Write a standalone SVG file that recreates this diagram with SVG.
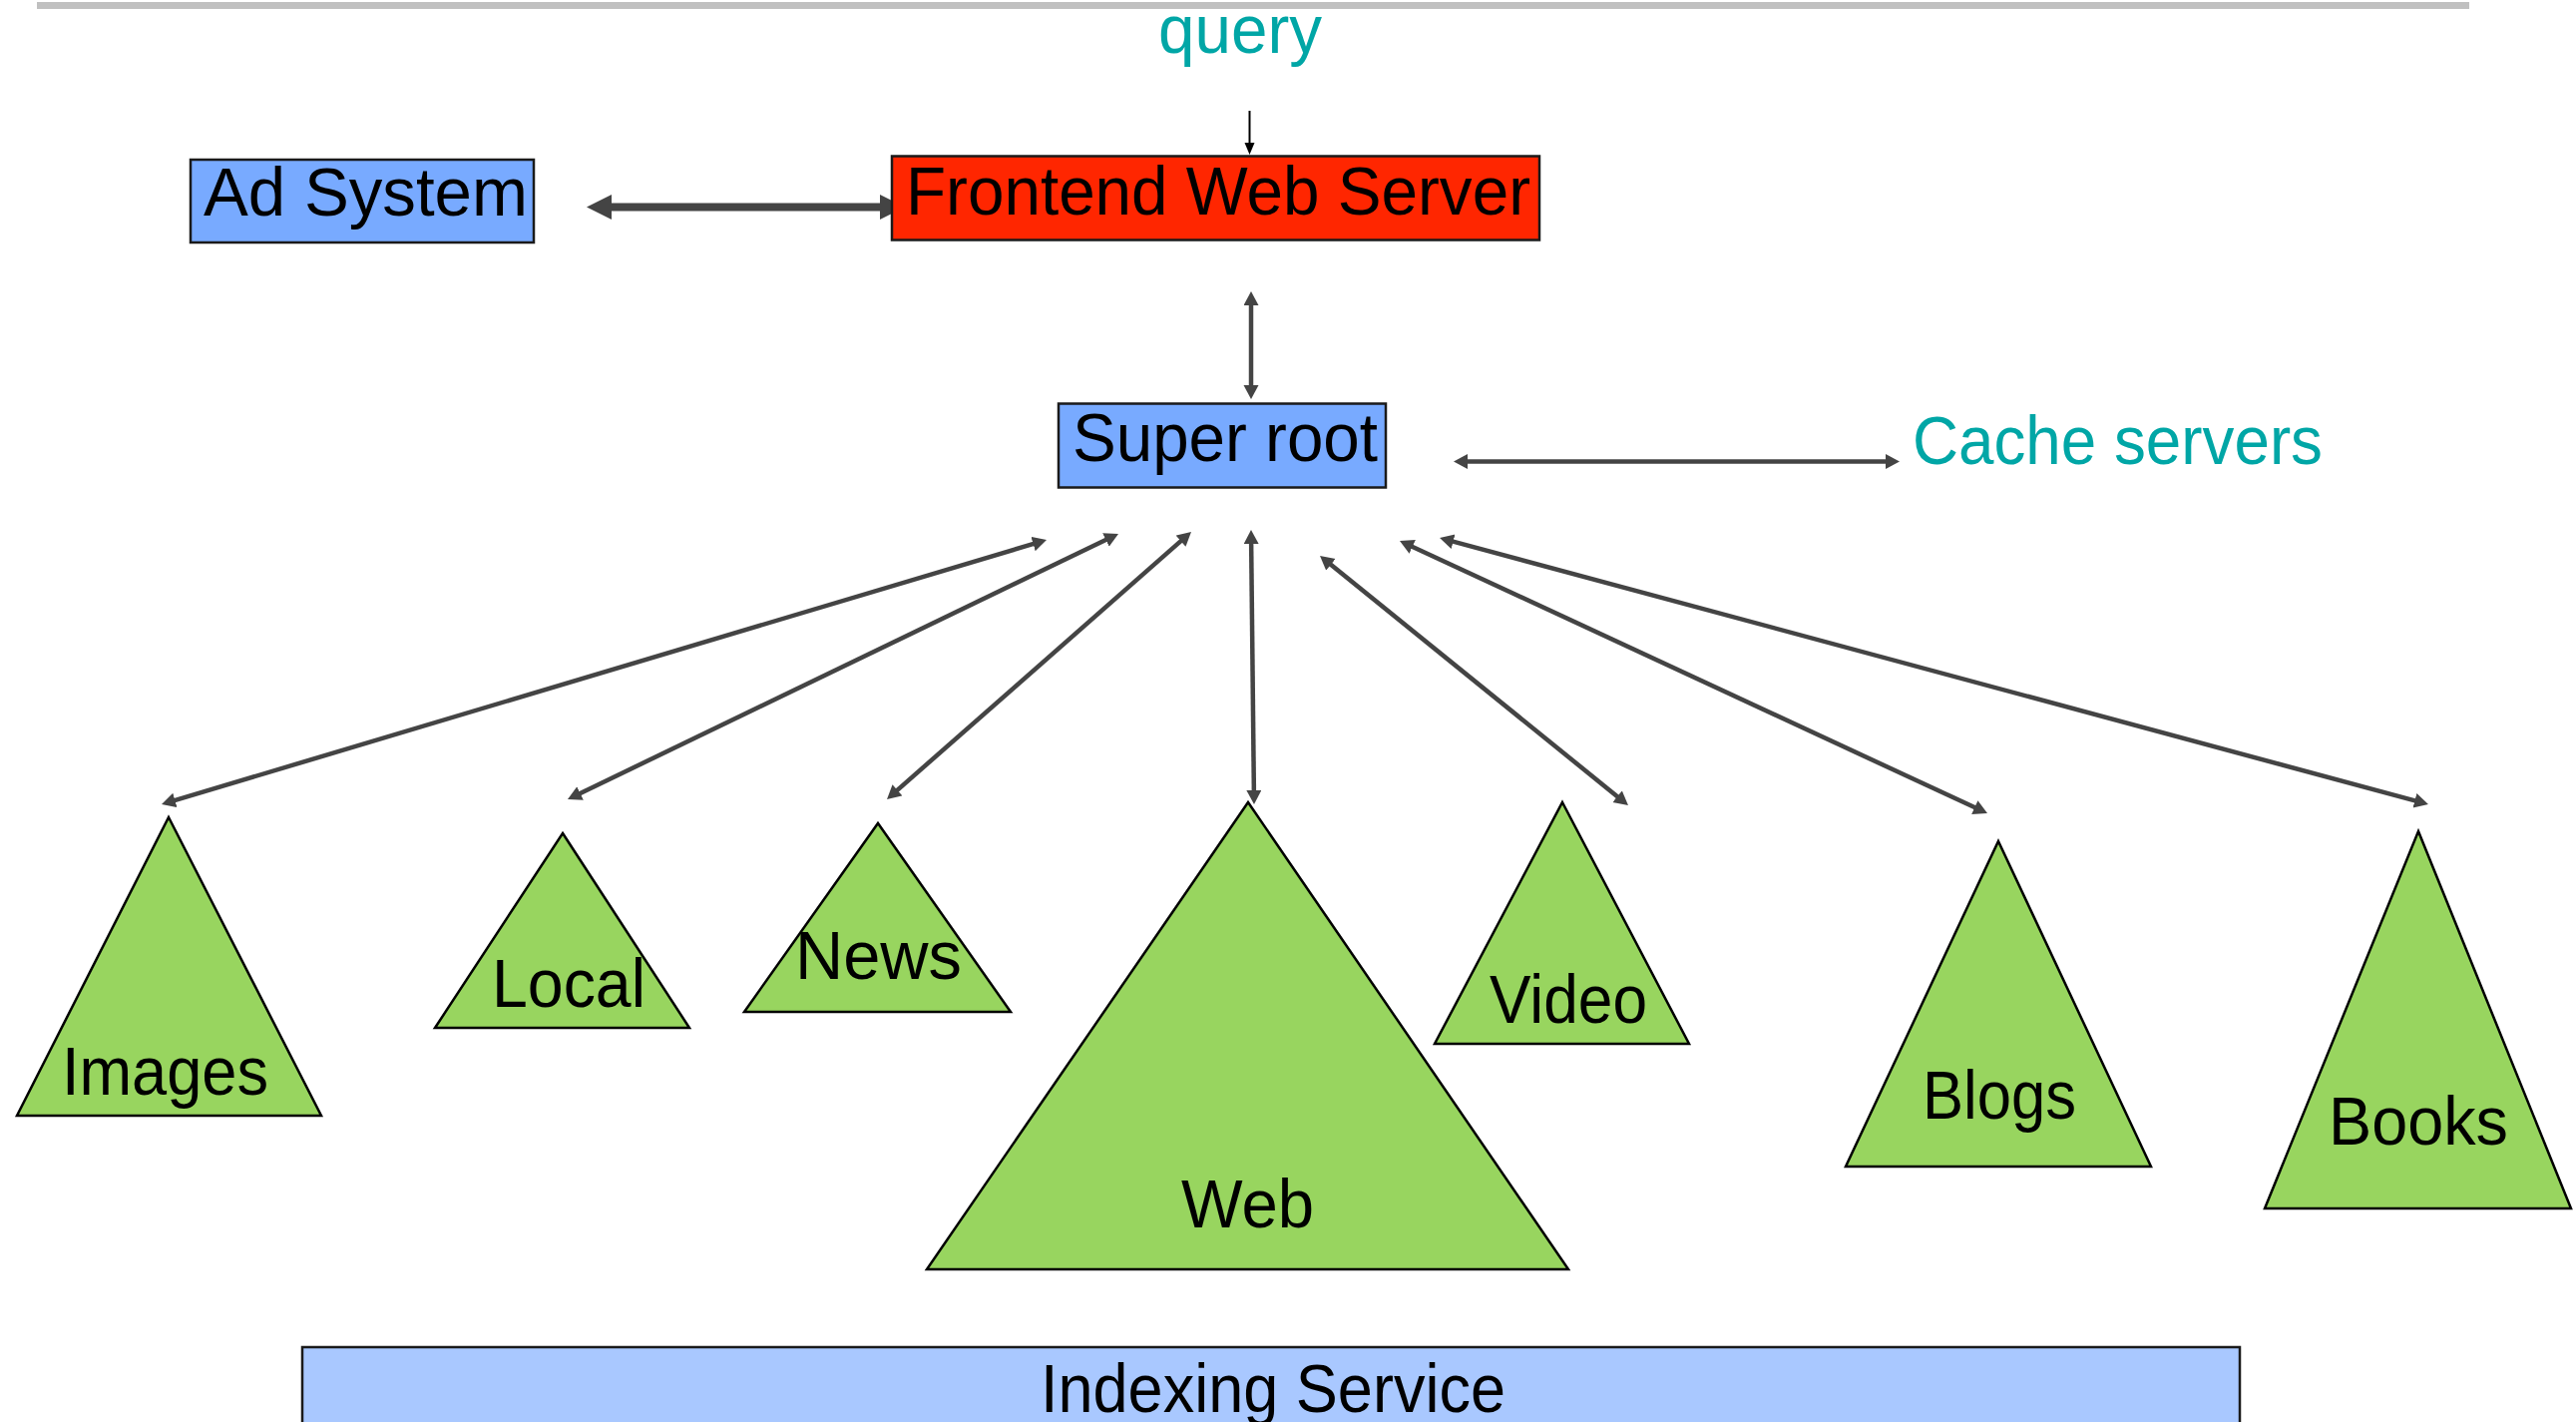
<svg xmlns="http://www.w3.org/2000/svg" width="2582" height="1425" viewBox="0 0 2582 1425">
<style>
  .lbl { font-family: "Liberation Sans", Arial, sans-serif; font-size: 68px; fill: #000; }
  .teal { font-family: "Liberation Sans", Arial, sans-serif; font-size: 68px; fill: #00a6a6; }
  .box { stroke: #1a1a1a; stroke-width: 2.5; }
  .blue { fill: #78aaff; }
  .tri { fill: #98d55f; stroke: #000; stroke-width: 2.5; stroke-linejoin: miter; }
  .fan { stroke: #444; stroke-width: 4.5; fill: none; marker-start: url(#ah); marker-end: url(#ah); }
</style>
<defs>
  <marker id="ah" markerUnits="userSpaceOnUse" markerWidth="15" markerHeight="16" refX="4" refY="7.5" orient="auto-start-reverse" viewBox="0 0 15 16">
    <path d="M0,0 L14,7.5 L0,15 z" fill="#444"/>
  </marker>
  <marker id="big" markerUnits="userSpaceOnUse" markerWidth="26" markerHeight="26" refX="10" refY="12.5" orient="auto-start-reverse" viewBox="0 0 26 26">
    <path d="M0,0 L25,12.5 L0,25 z" fill="#444"/>
  </marker>
  <marker id="qa" markerUnits="userSpaceOnUse" markerWidth="13" markerHeight="11" refX="2" refY="5" orient="auto" viewBox="0 0 13 11">
    <path d="M0,0 L12,5 L0,10 z" fill="#000"/>
  </marker>
</defs>

<rect x="37" y="2" width="2438" height="7" fill="#c0c0c0"/>

<g id="connectors">
  <line x1="1252.5" y1="111" x2="1252.5" y2="145" stroke="#000" stroke-width="2" marker-end="url(#qa)"/>
  <line x1="603" y1="207.5" x2="892" y2="207.5" stroke="#444" stroke-width="8" marker-start="url(#big)" marker-end="url(#big)"/>
  <line x1="1254" y1="302" x2="1254" y2="390" class="fan" stroke-width="4"/>
  <line x1="1467" y1="462.5" x2="1894" y2="462.5" class="fan" stroke-width="5"/>
  <line x1="1039.4" y1="543.9" x2="171.6" y2="803.1" class="fan"/>
  <line x1="1112.0" y1="539.3" x2="578.0" y2="796.7" class="fan"/>
  <line x1="1186.5" y1="539.6" x2="896.5" y2="794.4" class="fan"/>
  <line x1="1254.1" y1="541" x2="1256.9" y2="796" class="fan"/>
  <line x1="1330.8" y1="563.3" x2="1624.2" y2="800.7" class="fan"/>
  <line x1="1412.1" y1="546.2" x2="1982.9" y2="810.8" class="fan"/>
  <line x1="1452.7" y1="541.6" x2="2424.3" y2="803.4" class="fan"/>
</g>

<g id="query">
  <text class="teal" x="1161" y="53" textLength="164" lengthAdjust="spacingAndGlyphs">query</text>
</g>

<g id="ad-system">
  <rect class="box blue" x="191" y="160" width="344" height="83"/>
  <text class="lbl" x="204" y="216" textLength="325" lengthAdjust="spacingAndGlyphs">Ad System</text>
</g>

<g id="frontend">
  <rect class="box" fill="#ff2600" x="894" y="156.5" width="649" height="84"/>
  <text class="lbl" x="908" y="215" textLength="626" lengthAdjust="spacingAndGlyphs">Frontend Web Server</text>
</g>

<g id="super-root">
  <rect class="box blue" x="1061" y="404.5" width="328" height="84"/>
  <text class="lbl" x="1075" y="462" textLength="306" lengthAdjust="spacingAndGlyphs">Super root</text>
</g>

<g id="cache-servers">
  <text class="teal" x="1917" y="465" textLength="411" lengthAdjust="spacingAndGlyphs">Cache servers</text>
</g>

<g id="images">
  <polygon class="tri" points="169,819 322,1118 17,1118"/>
  <text class="lbl" x="62" y="1097" textLength="207" lengthAdjust="spacingAndGlyphs">Images</text>
</g>

<g id="local">
  <polygon class="tri" points="564,835 691,1030 436,1030"/>
  <text class="lbl" x="493" y="1009" textLength="154" lengthAdjust="spacingAndGlyphs">Local</text>
</g>

<g id="news">
  <polygon class="tri" points="880,825 1013,1014 746,1014"/>
  <text class="lbl" x="797" y="981" textLength="167" lengthAdjust="spacingAndGlyphs">News</text>
</g>

<g id="web">
  <polygon class="tri" points="1251,804 1572,1272 929,1272"/>
  <text class="lbl" x="1184" y="1230" textLength="133" lengthAdjust="spacingAndGlyphs">Web</text>
</g>

<g id="video">
  <polygon class="tri" points="1566,804 1693,1046 1438,1046"/>
  <text class="lbl" x="1493" y="1025" textLength="158" lengthAdjust="spacingAndGlyphs">Video</text>
</g>

<g id="blogs">
  <polygon class="tri" points="2003,843 2156,1169 1850,1169"/>
  <text class="lbl" x="1927" y="1121" textLength="154" lengthAdjust="spacingAndGlyphs">Blogs</text>
</g>

<g id="books">
  <polygon class="tri" points="2424,833 2577,1211 2270,1211"/>
  <text class="lbl" x="2334" y="1147" textLength="180" lengthAdjust="spacingAndGlyphs">Books</text>
</g>

<g id="indexing-service">
  <rect x="303" y="1350" width="1942" height="90" fill="#a9c8ff" stroke="#1a1a1a" stroke-width="2.5"/>
  <text class="lbl" x="1043" y="1415" font-size="66" textLength="466" lengthAdjust="spacingAndGlyphs">Indexing Service</text>
</g>
</svg>
